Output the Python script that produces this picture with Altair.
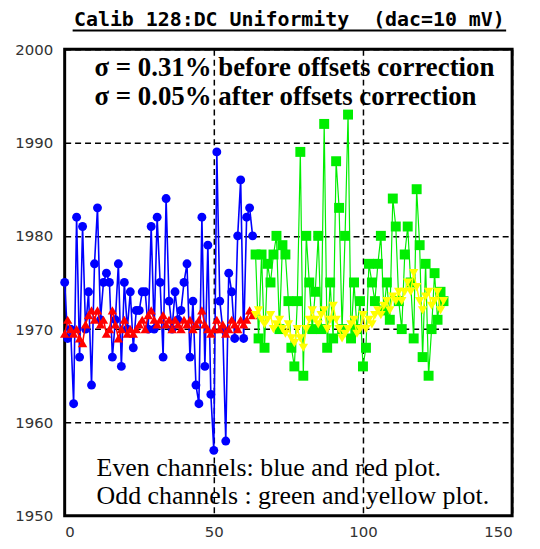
import altair as alt
import pandas as pd

blue_x = list(range(0, 64))
blue_y = [1975, 1969, 1970, 1962, 1982, 1967, 1981, 1970, 1974, 1964,
          1977, 1983, 1971, 1975, 1976, 1975, 1967, 1971, 1977, 1966,
          1975, 1970, 1974, 1968, 1972, 1972, 1974, 1974, 1970, 1981,
          1970, 1982, 1975, 1967, 1984, 1973, 1970, 1974, 1971, 1972,
          1975, 1977, 1967, 1973, 1964, 1962, 1982, 1966, 1979, 1963,
          1957, 1989, 1973, 1970, 1958, 1976, 1974, 1969, 1980, 1986,
          1969, 1982, 1983, 1980]
red_y = [1969.5, 1971, 1970, 1969.5, 1970, 1969, 1968.5, 1970.5, 1971.5, 1972,
         1971, 1972, 1970.5, 1971, 1969.5, 1970, 1972, 1970.5, 1969, 1970,
         1971, 1969.5, 1970, 1969.5, 1970, 1970.5, 1971, 1970, 1971.5, 1972,
         1971, 1970.5, 1971, 1971.5, 1970.5, 1971, 1970, 1971, 1970.5, 1970,
         1971, 1970.5, 1971, 1970, 1970.5, 1971, 1972, 1970.5, 1970, 1969.5,
         1970, 1971, 1970, 1970.5, 1969.5, 1970, 1971, 1970.5, 1970, 1971,
         1970.5, 1971, 1972, 1971.5]
green_x = list(range(64, 128))
green_y = [1978, 1969, 1978, 1968, 1977, 1975, 1978, 1980, 1970, 1979,
           1978, 1973, 1968, 1966, 1973, 1989, 1965, 1980, 1975, 1970,
           1974, 1980, 1970, 1992, 1968, 1975, 1969, 1988, 1983, 1970,
           1980, 1993, 1969, 1975, 1970, 1973, 1966, 1968, 1977, 1975,
           1973, 1977, 1980, 1972, 1975, 1971, 1984, 1981, 1973, 1970,
           1978, 1981, 1975, 1969, 1985, 1979, 1967, 1977, 1965, 1970,
           1976, 1971, 1974, 1973]
yellow_y = [1971.5, 1972, 1971, 1970.5, 1971, 1971.5, 1970, 1970.5, 1971, 1970,
            1969.5, 1970.5, 1969, 1968.5, 1970, 1969, 1968, 1970, 1971, 1972,
            1971, 1970.5, 1971.5, 1972, 1970, 1971, 1972.5, 1971, 1970, 1969,
            1969.5, 1970, 1970.5, 1971, 1969.5, 1970, 1971.5, 1970, 1971, 1970.5,
            1971.5, 1972, 1971.5, 1972.5, 1973, 1972, 1973.5, 1973, 1974, 1973,
            1974, 1975, 1974, 1976, 1974.5, 1973, 1972, 1973.5, 1974, 1972.5,
            1973, 1974, 1972, 1973]

x_ticks = [0, 50, 100, 150]
y_ticks = [1950, 1960, 1970, 1980, 1990, 2000]

title_text = "Calib 128:DC Uniformity\u00a0\u00a0(dac=10 mV)"
sigma_lines = ["σ = 0.31% before offsets correction", "σ = 0.05% after offsets correction"]
note_lines = ["Even channels: blue and red plot.", "Odd channels : green and yellow plot."]

W, H = 450, 469

xscale = alt.Scale(domain=[0, 150], nice=False, zero=False)
yscale = alt.Scale(domain=[1950, 2000], nice=False, zero=False)

x_axis = alt.Axis(values=x_ticks, title=None, ticks=False, domain=False, grid=True, format="d",
                  gridColor="black", gridDash=[6, 4], gridWidth=1.5, gridOpacity=1,
                  labelFont="DejaVu Sans", labelFontSize=15, labelColor="#333",
                  labelPadding=9)
y_axis = alt.Axis(values=y_ticks, title=None, ticks=False, domain=False, grid=True, format="d",
                  gridColor="black", gridDash=[6, 4], gridWidth=1.5, gridOpacity=1,
                  labelFont="DejaVu Sans", labelFontSize=15, labelColor="#333",
                  labelPadding=12)

X = lambda: alt.X("x:Q", scale=xscale, axis=x_axis)
Y = lambda: alt.Y("y:Q", scale=yscale, axis=y_axis)


def series(xs, ys, color, shape, size, lw):
    df = pd.DataFrame({"x": xs, "y": ys})
    base = alt.Chart(df)
    line = base.mark_line(color=color, strokeWidth=lw).encode(x=X(), y=Y())
    pts = base.mark_point(shape=shape, filled=True, color=color, size=size, opacity=1).encode(
        x=X(), y=Y())
    return line + pts


blue = series(blue_x, blue_y, "#0000ff", "circle", 80, 1.6)
green = series(green_x, green_y, "#00ee00", "square", 100, 1.2)
red = series(blue_x, red_y, "#ff0000", "triangle-up", 90, 1.5)
yellow = series(green_x, yellow_y, "#ffff00", "triangle-down", 90, 1.5)

sig_df = pd.DataFrame({"x": [10.0, 10.0], "y": [1997.1, 1994.0], "t": sigma_lines})
sig = alt.Chart(sig_df).mark_text(align="left", baseline="alphabetic", font="Liberation Serif",
                                  fontWeight="bold", fontSize=27, color="black").encode(
    x=X(), y=Y(), text="t:N")

note_df = pd.DataFrame({"x": [10.7, 10.7], "y": [1954.3, 1951.2], "t": note_lines})
note = alt.Chart(note_df).mark_text(align="left", baseline="alphabetic", font="Liberation Serif",
                                    fontSize=26, color="black").encode(
    x=X(), y=Y(), text="t:N")

title = alt.Chart(pd.DataFrame({"t": [title_text]})).mark_text(
    align="center", baseline="alphabetic", font="DejaVu Sans Mono", fontWeight="bold",
    fontSize=20, color="black").encode(x=alt.value(226), y=alt.value(-23), text="t:N")
underline = alt.Chart(pd.DataFrame({"a": [0]})).mark_rule(color="black", strokeWidth=2).encode(
    x=alt.value(8), x2=alt.value(444), y=alt.value(-19))

chart = alt.layer(blue, green, red, yellow, sig, note, title, underline).properties(
    width=W, height=H,
    background="white",
    autosize=alt.AutoSizeParams(type="none"),
    padding={"left": 57, "top": 40, "right": 20, "bottom": 30},
).configure_view(stroke="black", strokeWidth=3, fill="white")

chart.save("out.html", embed_options={"renderer": "svg", "actions": False})
